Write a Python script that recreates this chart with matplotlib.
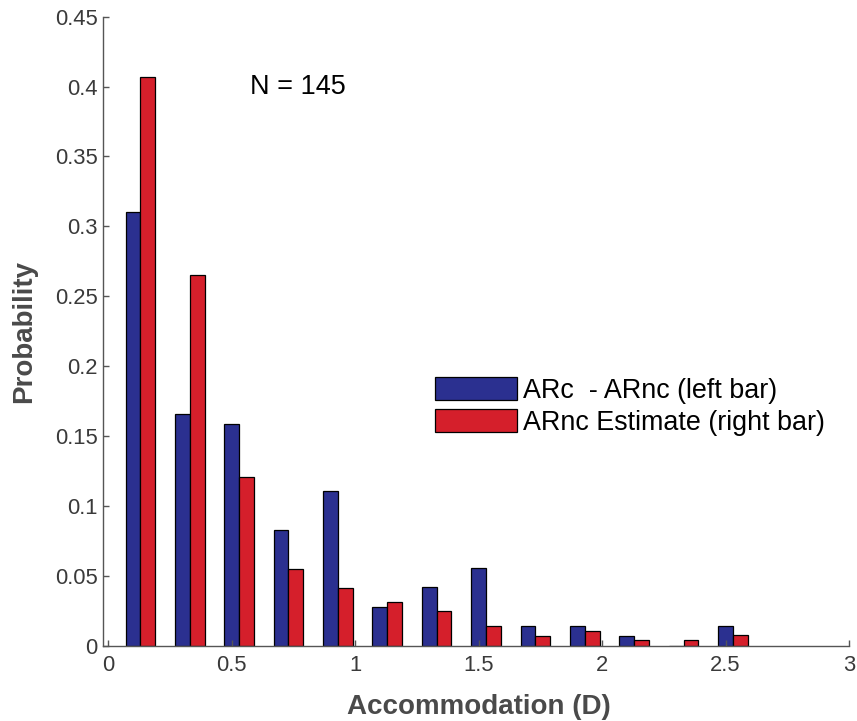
import matplotlib
matplotlib.use("Agg")
import matplotlib.pyplot as plt
import numpy as np

# Data
bin_centers = [0.13, 0.33, 0.53, 0.73, 0.93, 1.13, 1.33, 1.53, 1.73, 1.93, 2.13, 2.33, 2.53]
arc_minus_arnc = [0.3103, 0.1655, 0.1586, 0.0827, 0.1104, 0.0278, 0.0416, 0.0555,
                  0.0140, 0.0140, 0.0070, 0.0, 0.0143]
arnc_estimate = [0.4068, 0.2655, 0.1205, 0.0551, 0.0414, 0.0313, 0.0244, 0.0139,
                 0.0070, 0.0106, 0.0036, 0.0036, 0.0072]
x_ticks = [0, 0.5, 1, 1.5, 2, 2.5, 3]
x_ticklabels = ["0", "0.5", "1", "1.5", "2", "2.5", "3"]
y_ticks = [0, 0.05, 0.1, 0.15, 0.2, 0.25, 0.3, 0.35, 0.4, 0.45]
y_ticklabels = ["0", "0.05", "0.1", "0.15", "0.2", "0.25", "0.3", "0.35", "0.4", "0.45"]
labels = ["ARc  - ARnc (left bar)", "ARnc Estimate (right bar)"]

plt.rcParams['font.family'] = ['Liberation Sans', 'DejaVu Sans']

W, H = 857, 721
fig = plt.figure(figsize=(W / 100, H / 100), dpi=100)
ax = fig.add_axes([103.3 / W, 1 - 645.5 / H, (849 - 103.3) / W, (645.5 - 16.7) / H])

blue = "#2b3090"
red = "#d51f2b"
bw = 0.06
xc = np.array(bin_centers)
ax.bar(xc - bw / 2, arc_minus_arnc, width=bw, color=blue, edgecolor="black",
       linewidth=0.9, label=labels[0])
ax.bar(xc + bw / 2, arnc_estimate, width=bw, color=red, edgecolor="black",
       linewidth=0.9, label=labels[1])

ax.set_xlim(-0.02, 3)
ax.set_ylim(0, 0.45)
ax.set_xticks(x_ticks)
ax.set_xticklabels(x_ticklabels)
ax.set_yticks(y_ticks)
ax.set_yticklabels(y_ticklabels)

gray = "#555555"
for s in ["top", "right"]:
    ax.spines[s].set_visible(False)
for s in ["left", "bottom"]:
    ax.spines[s].set_color(gray)
    ax.spines[s].set_linewidth(1.0)
ax.tick_params(direction="in", length=4, width=1.0, color=gray,
               labelcolor="#3a3a3a", labelsize=15.8, pad=4)
ax.tick_params(axis="x", pad=7)

ax.set_xlabel("Accommodation (D)", fontsize=20, fontweight="bold", color="#4a4a4a",
              va="center")
ax.xaxis.set_label_coords(0.5037, -0.0978)
ax.set_ylabel("Probability", fontsize=20, fontweight="bold", color="#4a4a4a",
              va="center")
ax.yaxis.set_label_coords(-0.1063, 0.499)

ax.text(0.768, 0.400, "N = 145", fontsize=19.5, color="black", ha="center", va="center")

leg = ax.legend(loc="upper left", bbox_to_anchor=(435 / W, 1 - 377 / H),
                bbox_transform=fig.transFigure, frameon=False, fontsize=19.4,
                handlelength=3.05, handleheight=0.93, handletextpad=0.2,
                labelspacing=0.2, borderpad=0, borderaxespad=0)

fig.savefig("out.png", dpi=100)
